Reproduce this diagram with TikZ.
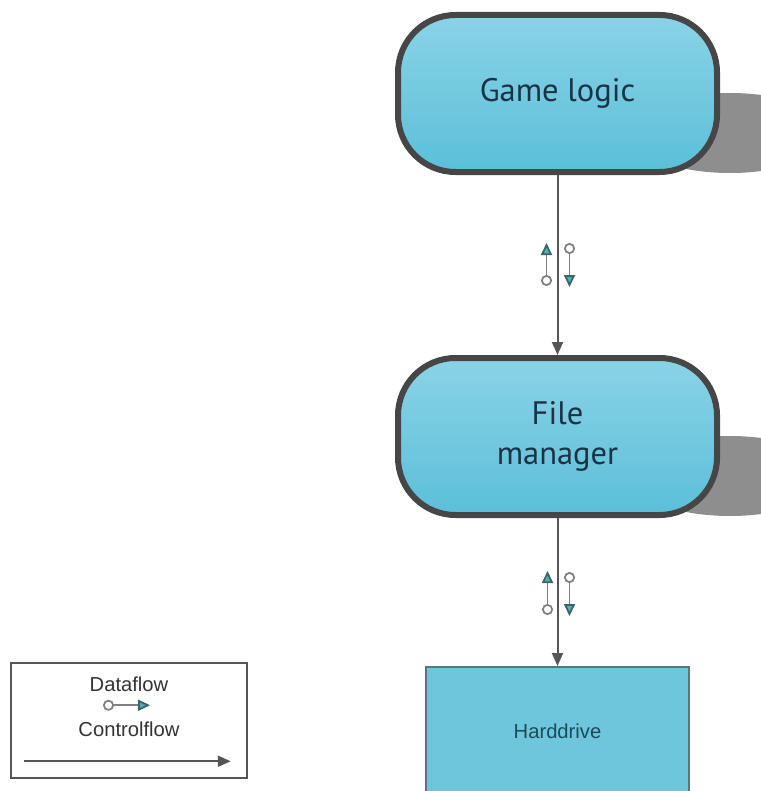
\documentclass[tikz,border=0pt]{standalone}
\usepackage{fontspec}
\setmainfont{Liberation Sans}
\newfontfamily\roundfont{PT Sans}
\usetikzlibrary{arrows.meta, positioning, backgrounds}

\definecolor{boxtop}{HTML}{8AD3E6}
\definecolor{boxbottom}{HTML}{5BBFD9}
\definecolor{boxedge}{HTML}{464646}
\definecolor{boxtext}{HTML}{1C3346}
\definecolor{drivefill}{HTML}{6DC6DC}
\definecolor{driveedge}{HTML}{5F7479}
\definecolor{drivetext}{HTML}{1D4A5C}
\definecolor{flowteal}{HTML}{5AAAAE}
\definecolor{linegray}{HTML}{555555}
\definecolor{shadowgray}{HTML}{8E8E8E}

\begin{document}
\begin{tikzpicture}[
    module/.style={rectangle, rounded corners=1.15cm, minimum width=6.38cm, minimum height=3.14cm, text centered, align=center, draw=boxedge, line width=0.12cm, top color=boxtop, bottom color=boxbottom, text=boxtext, font=\roundfont\fontsize{18.5}{23}\selectfont},
    storage/.style={rectangle, minimum width=5.26cm, minimum height=2.6cm, text centered, draw=driveedge, line width=0.03cm, fill=drivefill, text=drivetext, font=\fontsize{11.5}{14}\selectfont},
    legendbox/.style={rectangle, minimum width=4.72cm, minimum height=2.3cm, draw=linegray, line width=0.03cm},
    legendtext/.style={text=black!80, font=\fontsize{11.5}{14}\selectfont},
    arrow/.style={line width=0.04cm, draw=linegray, -{Triangle[length=0.26cm, width=0.22cm]}},
    dataflow/.style={draw=gray, line width=0.035cm, {Circle[open, length=0.22cm, width=0.22cm]}-{Triangle[length=0.24cm, width=0.22cm, fill=flowteal, color=flowteal!60!black]}}
    ]
    \useasboundingbox (0,0) rectangle (15.2,-15.82);

    % modules
    \node (gamelogic) [module] at (11.15,-1.87) {Game logic};
    \node (filemanager) [module, below=3.6cm of gamelogic] {File\\manager};
    \node (harddrive) [storage, below=2.96cm of filemanager] {Harddrive};

    % shadows
    \begin{scope}[on background layer]
        \fill [shadowgray] ([xshift=0.2cm, yshift=-0.79cm]gamelogic.east) ellipse [x radius=2cm, y radius=0.8cm];
        \fill [shadowgray] ([xshift=0.2cm, yshift=-0.79cm]filemanager.east) ellipse [x radius=2cm, y radius=0.8cm];
    \end{scope}

    % control flow
    \draw [arrow] (gamelogic) -- coordinate[midway] (flowtop) (filemanager);
    \draw [arrow] (filemanager) -- coordinate[midway] (flowbottom) (harddrive);

    % data flow
    \draw [dataflow] ([xshift=-0.22cm, yshift=-0.42cm]flowtop) -- ([xshift=-0.22cm, yshift=0.44cm]flowtop);
    \draw [dataflow] ([xshift=0.24cm, yshift=0.44cm]flowtop) -- ([xshift=0.24cm, yshift=-0.44cm]flowtop);
    \draw [dataflow] ([xshift=-0.2cm, yshift=-0.46cm]flowbottom) -- ([xshift=-0.2cm, yshift=0.42cm]flowbottom);
    \draw [dataflow] ([xshift=0.24cm, yshift=0.4cm]flowbottom) -- ([xshift=0.24cm, yshift=-0.48cm]flowbottom);

    % legend
    \node (legend) [legendbox] at (2.58,-14.41) {};
    \node (datalabel) [legendtext] at ([yshift=-0.44cm]legend.north) {Dataflow};
    \node (controllabel) [legendtext] at ([yshift=-1.34cm]legend.north) {Controlflow};
    \coordinate (datastart) at ([xshift=-0.52cm, yshift=-0.86cm]legend.north);
    \coordinate (dataend) at ([xshift=0.42cm, yshift=-0.86cm]legend.north);
    \coordinate (controlstart) at ([xshift=0.28cm, yshift=-1.98cm]legend.north west);
    \coordinate (controlend) at ([xshift=-0.34cm, yshift=-1.98cm]legend.north east);
    \draw [dataflow] (datastart) -- (dataend);
    \draw [arrow] (controlstart) -- (controlend);

\end{tikzpicture}
\end{document}
